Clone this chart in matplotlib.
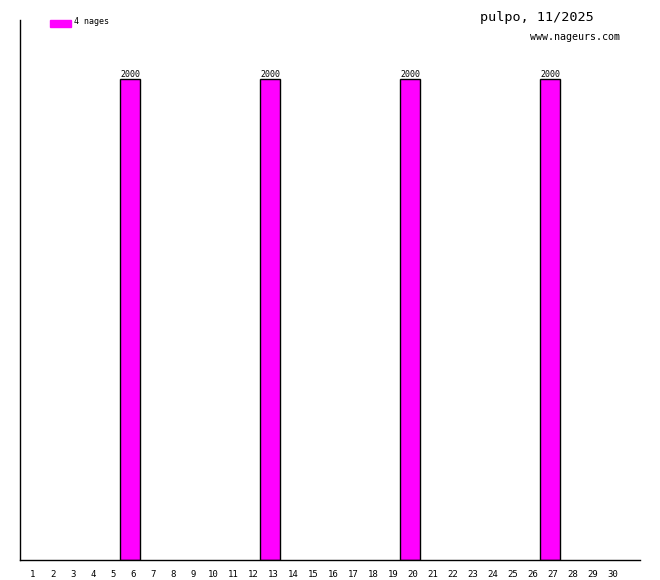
import matplotlib
matplotlib.use("Agg")
import matplotlib.pyplot as plt
import matplotlib.transforms as mtransforms
import numpy as np

# data ---------------------------------------------------------------------
days = list(range(1, 31))
swim_days = [6, 13, 20, 27]
swim_dist = [2000, 2000, 2000, 2000]
distances = [0] * 30
for d, v in zip(swim_days, swim_dist):
    distances[d - 1] = v
legend_label = "4 nages"
title = "pulpo, 11/2025"
site = "www.nageurs.com"

W, H = 660, 580
fig = plt.figure(figsize=(W / 100, H / 100), dpi=100)
ax = fig.add_axes([20 / W, 20 / H, 620 / W, 540 / H])

mono = "DejaVu Sans Mono"
magenta = "#ff00ff"

# bars: day d fills the slot [d-1, d]
x = np.array(days) - 1
vals = np.array(distances)
mask = vals > 0
ax.bar(x[mask], vals[mask], width=1.0, align="edge", color=magenta,
       edgecolor="black", linewidth=1)
for xi, v in zip(x[mask], vals[mask]):
    ax.text(xi + 0.5, v + 2, str(v), ha="center", va="bottom",
            fontsize=6, family=mono)

ax.set_xlim(0, 31)
ax.set_ylim(0, 2000 * 540 / 481)

for s in ["top", "right"]:
    ax.spines[s].set_visible(False)
ax.spines["left"].set_linewidth(1)
ax.spines["bottom"].set_linewidth(1)

ax.set_xticks(x + 0.5)
ax.set_xticklabels([str(d) for d in days], fontsize=6.5, family=mono)
ax.tick_params(axis="x", length=0, pad=7)
shift = mtransforms.ScaledTranslation(3 / 100, 0, fig.dpi_scale_trans)
for lab in ax.get_xticklabels():
    lab.set_transform(lab.get_transform() + shift)
ax.set_yticks([])

# legend box and texts
fig.patches.append(plt.Rectangle((50 / W, 1 - 27 / H), 21 / W, 7 / H,
                                 transform=fig.transFigure, color=magenta))
fig.text(74 / W, 1 - 22 / H, legend_label, fontsize=6, family=mono,
         va="center", ha="left")
fig.text(480 / W, 1 - 18 / H, title, fontsize=9.7, family=mono,
         va="center", ha="left")
fig.text(530 / W, 1 - 37 / H, site, fontsize=7.2, family=mono,
         va="center", ha="left")

fig.savefig("out.png", dpi=100)
